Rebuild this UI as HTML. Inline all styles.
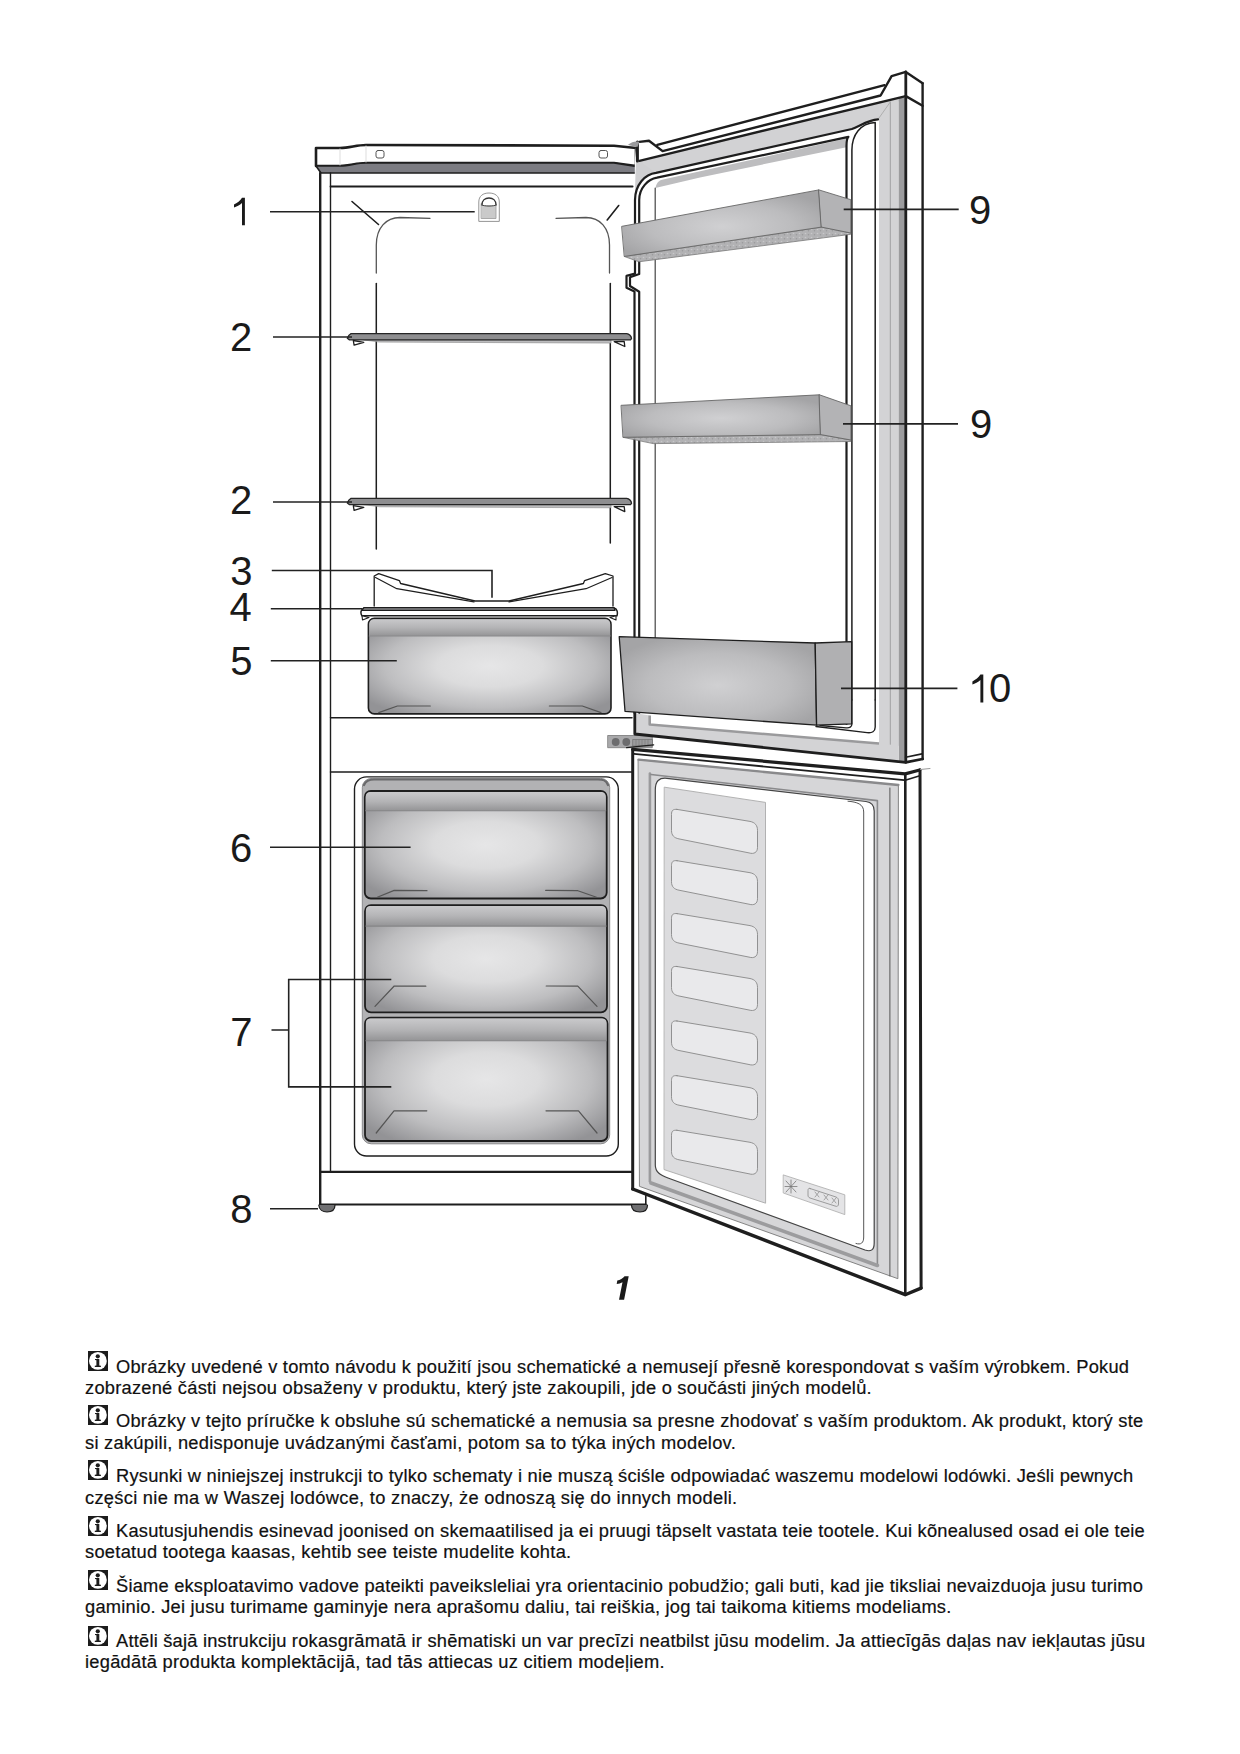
<!DOCTYPE html>
<html><head><meta charset="utf-8">
<style>
html,body{margin:0;padding:0;background:#fff;}
body{width:1240px;height:1754px;position:relative;overflow:hidden;font-family:"Liberation Sans",sans-serif;color:#111;}
svg{position:absolute;left:0;top:0;}
.ln{position:absolute;left:0;white-space:pre;font-size:18.3px;letter-spacing:0.2px;line-height:22px;-webkit-text-stroke:0.2px #111;}
.ic{position:absolute;left:88px;width:20px;height:20px;background:#1c1c1c;}
.lab{font-family:"Liberation Sans",sans-serif;font-size:39px;fill:#1a1a1a;}
</style></head><body>
<svg width="1240" height="1754" viewBox="0 0 1240 1754">
<defs>
<radialGradient id="gDr" cx="0.5" cy="0.5" r="0.62" fx="0.5" fy="0.5">
<stop offset="0" stop-color="#e6e6e7"/><stop offset="0.35" stop-color="#dcdcdd"/><stop offset="0.7" stop-color="#bdbdbf"/><stop offset="1" stop-color="#939396"/>
</radialGradient>
<linearGradient id="gHd" x1="0" y1="0" x2="0" y2="1">
<stop offset="0" stop-color="#c9c9cb"/><stop offset="0.5" stop-color="#b4b4b6"/><stop offset="1" stop-color="#949496"/>
</linearGradient>
<radialGradient id="gBin" cx="0.5" cy="0.55" r="0.6">
<stop offset="0" stop-color="#d0d0d2"/><stop offset="0.6" stop-color="#bcbcbe"/><stop offset="1" stop-color="#a4a4a6"/>
</radialGradient>
<pattern id="pTex" width="6" height="4" patternUnits="userSpaceOnUse">
<rect width="6" height="4" fill="#b2b2b4"/><circle cx="1.5" cy="1.5" r="0.8" fill="#c8c8ca"/><circle cx="4.5" cy="2.8" r="0.8" fill="#9a9a9c"/>
</pattern>
</defs>
<g id="drawing" fill="none" stroke="#1e1e1e" stroke-linejoin="round" stroke-linecap="round">
<!-- CABINET -->
<!-- top cover -->
<path d="M316,148 L340,148 C350,148 356,145 366,145 L614,145.7 L636,148 L636,166 L614,163 L366,163 C356,163 350,166 340,166 L316,166 Z" fill="#fff" stroke-width="2.6"/>
<path d="M316,166 L340,166 C350,166 356,163 366,163 L614,163 L636,166.5 L636,173 L321,173 Z" fill="#7c7c82" stroke-width="1.6"/>
<rect x="376" y="150.5" width="8" height="7.5" rx="2" stroke="#555" stroke-width="1"/>
<rect x="599" y="150.5" width="8.5" height="7.5" rx="2" stroke="#555" stroke-width="1"/>
<line x1="340" y1="149" x2="340" y2="165" stroke="#ddd" stroke-width="1"/>
<line x1="366" y1="146" x2="366" y2="162" stroke="#ddd" stroke-width="1"/>
<!-- cabinet walls -->
<line x1="320.2" y1="173" x2="320.2" y2="1205" stroke-width="2.4"/>
<line x1="330.5" y1="173" x2="330.5" y2="1171.5" stroke-width="1.4"/>
<line x1="330.5" y1="186.5" x2="632.6" y2="186.5" stroke-width="1.8"/>

<!-- FRIDGE INTERIOR -->
<!-- liner -->
<path d="M376.3,273 L376.3,245 C376.3,228 386,217.5 400,217.5 L430,218.3" stroke="#555" stroke-width="1.3"/>
<path d="M556,218.3 L586,217.5 C600,217.5 609.5,228 609.5,245 L609.5,273" stroke="#555" stroke-width="1.3"/>
<line x1="376.3" y1="283.5" x2="376.3" y2="549" stroke-width="1.5"/>
<line x1="610.3" y1="283.5" x2="610.3" y2="543" stroke-width="1.5"/>
<line x1="352" y1="201.5" x2="378.5" y2="224.5" stroke-width="1.6"/>
<line x1="607.2" y1="220" x2="618.7" y2="205.5" stroke-width="1.6"/>
<!-- light -->
<path d="M478.8,221 L478.8,202 C478.8,196 483,193 489,193 C495,193 499.3,196 499.3,202 L499.3,221 Z" fill="#fff" stroke="#888" stroke-width="0.9"/>
<rect x="481.5" y="203.5" width="14.5" height="15" fill="#cacaca" stroke="#999" stroke-width="0.8"/>
<path d="M482,205 C482,200.5 485,198 489,198 C493,198 496,200.5 496,205" fill="#fff" stroke="#333" stroke-width="1.3"/>
<path d="M482,205 C484,206.5 494,206.5 496,205" stroke="#444" stroke-width="1"/>
<!-- shelf upper -->
<path d="M364,339.9 L611,339.9 L611,343.1 L380,342.1 Z" fill="#bcbcbe" stroke="#888" stroke-width="0.6"/>
<path d="M351,333.6 L626.7,333.6 C629,333.8 631.5,336.3 631.5,338.6 L630.5,339.9 L349.5,339.9 L347.3,338.3 C348,336.3 349.5,334.3 351,333.6 Z" fill="#8e8e90" stroke="#262626" stroke-width="1.3"/>
<path d="M353.3,340.5 L354.1,345.2 L363.8,342.3 Z" fill="#fff" stroke-width="1.3"/>
<path d="M614.2,341.6 L624.8,346.5 L624.2,341.5 Z" fill="#fff" stroke-width="1.3"/>
<!-- shelf lower -->
<path d="M364,504.6 L611,504.6 L611,507.8 L380,506.8 Z" fill="#bcbcbe" stroke="#888" stroke-width="0.6"/>
<path d="M351,498.3 L626.7,498.3 C629,498.5 631.5,501.0 631.5,503.3 L630.5,504.6 L349.5,504.6 L347.3,503.0 C348,501.0 349.5,499.0 351,498.3 Z" fill="#8e8e90" stroke="#262626" stroke-width="1.3"/>
<path d="M353.3,505.6 L354.1,510.4 L363.8,507.4 Z" fill="#fff" stroke-width="1.3"/>
<path d="M614.2,506.7 L624.8,511.6 L624.2,506.6 Z" fill="#fff" stroke-width="1.3"/>
<!-- bottle rack (3) -->
<path d="M374.2,606 L374.2,576 L378.7,573.6 L399.4,580.6 L400.6,583.5 L475,601 L509,601 L583.4,583.5 L584.6,580.6 L605.3,573.6 L613,576 L613,606" fill="#fff" stroke-width="1.3"/>
<path d="M375.5,577.5 L396.8,588.7 L474,601.8 M509,601.8 L586,588.7 L612,577.5" stroke-width="1.2"/>
<!-- glass shelf (4) -->
<path d="M364,608 L614,608 C617,608.5 618,612 617,615.8 L362,615.8 C360,613 361,609 364,608 Z" fill="#fff" stroke-width="1.5"/>
<path d="M364,607.5 L614,607.5 L615,610.5 L362,610.5 Z" fill="#6e6e70" stroke-width="1.2"/>
<path d="M362,615.8 L362.5,620 L369,617.5 Z" fill="#fff" stroke-width="1.1"/>
<path d="M616,615.8 L616,620 L610,617.5 Z" fill="#fff" stroke-width="1.1"/>
<!-- crisper (5) -->
<rect x="368.4" y="618.4" width="242.6" height="95.5" rx="6" fill="url(#gDr)" stroke-width="1.6"/>
<path d="M369.2,636 L369.2,624.5 C369.2,620.5 371.5,619.2 374.5,619.2 L605,619.2 C608,619.2 610.2,620.5 610.2,624.5 L610.2,636 Z" fill="url(#gHd)" stroke="none"/>
<line x1="369.2" y1="636" x2="610.2" y2="636" stroke="#8a8a8c" stroke-width="1"/>
<path d="M378.7,712.6 L397.4,706 L430.3,706" stroke="#555" stroke-width="1.2"/>
<path d="M601,712.6 L582.3,706 L549.4,706" stroke="#555" stroke-width="1.2"/>
<!-- compartment separators -->
<line x1="330.5" y1="717.7" x2="632" y2="717.7" stroke-width="1.5"/>
<line x1="330.5" y1="771.9" x2="632" y2="771.9" stroke-width="1.5"/>

<!-- FREEZER -->
<rect x="354.5" y="776.9" width="263.8" height="379.1" rx="12" fill="#fff" stroke-width="1.4"/>
<rect x="362.3" y="778.4" width="247.4" height="365.4" rx="9" fill="#b2b2b4" stroke="#8a8a8c" stroke-width="1"/>
<path d="M364,785 C366,780 370,779.5 374,779.5 L598,779.5 C603,779.5 606,780 608,785" stroke="#6a6a6c" stroke-width="2.2"/>
<!-- drawer 1 -->
<rect x="364.8" y="791" width="241.9" height="107.5" rx="6" fill="url(#gDr)" stroke-width="1.8"/>
<path d="M365.7,810.8 L365.7,797 C365.7,793 368,791.9 371,791.9 L600.5,791.9 C603.5,791.9 605.8,793 605.8,797 L605.8,810.8 Z" fill="url(#gHd)" stroke="none"/>
<line x1="365.7" y1="810.8" x2="605.8" y2="810.8" stroke="#858587" stroke-width="1.1"/>
<path d="M377.3,897.2 L394.2,890.4 L427,890.7" stroke="#555" stroke-width="1.2"/>
<path d="M596.5,897.2 L577.9,890.7 L545.7,890.4" stroke="#555" stroke-width="1.2"/>
<!-- drawer 2 -->
<rect x="365" y="905.2" width="242" height="107.1" rx="6" fill="url(#gDr)" stroke-width="1.8"/>
<path d="M365.9,926.1 L365.9,911 C365.9,907 368,906.1 371,906.1 L600.8,906.1 C603.8,906.1 606.1,907 606.1,911 L606.1,926.1 Z" fill="url(#gHd)" stroke="none"/>
<line x1="365.9" y1="926.1" x2="606.1" y2="926.1" stroke="#858587" stroke-width="1.1"/>
<path d="M375,1006.3 L394.2,986 L425.8,986.2" stroke="#555" stroke-width="1.2"/>
<path d="M597,1006.3 L577.8,986.2 L546.2,986" stroke="#555" stroke-width="1.2"/>
<!-- drawer 3 -->
<rect x="365" y="1017.7" width="242.5" height="123.3" rx="6" fill="url(#gDr)" stroke-width="1.8"/>
<path d="M365.9,1040.7 L365.9,1023.5 C365.9,1019.5 368,1018.6 371,1018.6 L601.3,1018.6 C604.3,1018.6 606.6,1019.5 606.6,1023.5 L606.6,1040.7 Z" fill="url(#gHd)" stroke="none"/>
<line x1="365.9" y1="1040.7" x2="606.6" y2="1040.7" stroke="#858587" stroke-width="1.1"/>
<path d="M376.2,1133 L394,1110.8 L426.8,1110.8" stroke="#555" stroke-width="1.2"/>
<path d="M597,1133 L578.5,1110.8 L546,1110.8" stroke="#555" stroke-width="1.2"/>
<!-- base -->
<line x1="320.2" y1="1171.8" x2="632.7" y2="1171.8" stroke-width="2.2"/>
<line x1="320.2" y1="1204.6" x2="645.8" y2="1204.6" stroke-width="2"/>
<line x1="645.8" y1="1195.5" x2="645.8" y2="1204.6" stroke-width="1.6"/>
<path d="M318.8,1205 C319,1210 323,1212 327,1212 C332,1212 335,1209.5 335,1205" fill="#707072" stroke-width="1.2"/>
<path d="M631.5,1205 C631.5,1210 635,1212 640,1212 C645,1212 647.5,1209.5 647.5,1205" fill="#707072" stroke-width="1.2"/>
<!-- hinge -->
<rect x="608" y="735.5" width="44.3" height="12.2" fill="#a9a9ab" stroke="#777" stroke-width="0.8"/>
<circle cx="615.7" cy="742" r="3.9" fill="#6c6c6e" stroke="none"/>
<circle cx="626.3" cy="742" r="3.9" fill="#6c6c6e" stroke="none"/>
<rect x="633" y="739.5" width="19.5" height="6.5" fill="#9a9a9c" stroke="#666" stroke-width="0.6"/>
<path d="M636,740 L636,746 M639,740 L639,746 M642,740 L642,746 M645,740 L645,746 M648,740 L648,746" stroke="#777" stroke-width="0.6"/>
<path d="M626.6,747.6 L653.7,744.8" stroke-width="1.2"/>

<!-- UPPER DOOR -->
<path d="M636,147 L649,140.8 L884.5,85.2 L891.6,76.1 L905.8,71.9 L922.6,83.2 L922.6,759 L905.6,762.3 L634.8,734 L634.8,160 Z" fill="#fff" stroke="none"/>
<!-- top grey gasket band -->
<path d="M639.4,160.8 L905.8,96.1 L905.8,101 L890.3,102 L878,119.4 L851.9,129 L656,172.9 C645,174 635,185 635,200 L636,162 Z" fill="#d2d2d4" stroke="none"/>
<!-- grey shadow under top inner -->
<path d="M655.3,192 C655.3,185 657.5,181 662,179.8 L846.5,138.5 L846.5,147.2 L700,177.4 L655.3,188 Z" fill="#bdbdbf" stroke="none"/>
<!-- right gasket vertical -->
<rect x="879" y="101" width="19.7" height="645" fill="#d3d3d5" stroke="none"/>
<rect x="898.7" y="98" width="7.2" height="664" fill="#9c9c9e" stroke="none"/>
<line x1="890.3" y1="102" x2="890.3" y2="746" stroke="#9a9a9c" stroke-width="0.9"/>
<path d="M878,119.4 L890.3,102" stroke="#aaa" stroke-width="0.9"/>
<!-- left gasket light face top-left -->
<path d="M636,162 L639.4,160.8 L656,172.9 C645,174 636,185 635,200 Z" fill="#cfcfd1" stroke="none"/>
<!-- rails -->
<path d="M657.3,144.8 L884.5,85.2" stroke-width="2.4"/>
<path d="M639.4,141.9 L649,140.8 L662.6,151.1 L880.6,95.5 L891.6,76.1 L905.8,71.9" stroke-width="2.4"/>
<path d="M639.4,160.8 L905.8,96.1" stroke-width="2.4"/>
<path d="M637.4,142 L637.4,161" stroke-width="3"/>
<path d="M627.7,145 C632,141.5 636,141 639.4,141.9 L637.4,147 Z" fill="#9a9a9c" stroke="none"/>
<path d="M905.8,71.9 L922.6,83.2 M905.8,96.1 L922.6,105.8" stroke-width="2.4"/>
<line x1="905.8" y1="71.9" x2="905.8" y2="762.3" stroke-width="2.8"/>
<line x1="922.6" y1="83.2" x2="922.6" y2="759" stroke-width="2.4"/>
<!-- gasket lines -->
<path d="M634.5,713 L634.5,291.4 L626.5,287.7 L626.5,275.9 L635,273.6 L635,200 C635,185 645,174 656,172.9 L851.9,129 C860,126 868,120 878,119.4" stroke-width="2.2"/>
<path d="M639.2,713 L639.2,291.8 L630,286 L630,277.2 L639.2,274 L639.2,200 C639.2,188 648,179 657,177.7 L848.4,136.8 C847,138 846.5,140 846.5,146 L846.5,724" stroke-width="2.2"/>
<path d="M851.9,700 L851.9,150 C852,135 860,123.5 875.2,122.6 L875.2,700" stroke-width="1.5"/>
<line x1="655.2" y1="188" x2="655.2" y2="640" stroke="#444" stroke-width="1.2"/>
<!-- bottom gasket -->
<path d="M634.8,713 L649.7,715.5 L649.7,724.5 L879,743.5 L898.7,745.5 L898.7,761.5 L634.8,734 Z" fill="#d3d3d5" stroke="none"/>
<path d="M649.7,715.5 L649.7,724.5 L879,743.5" stroke="#9a9a9c" stroke-width="2.6" stroke-linecap="butt"/>
<path d="M634.8,713 L634.8,734 L905.6,762.3 L922.6,759" stroke-width="2.8"/>
<path d="M905.6,757.3 L922,753.9" stroke-width="1.6"/>
<path d="M875.2,700 L875.2,727 C875.2,731.5 872,733.3 867,732.6 L816,726.5" stroke-width="1.4"/>
<path d="M851.9,700 L851.9,724 C851.9,727 849.5,728.2 846,727.8 L820,725.5" stroke-width="1.3"/>
<!-- bin 9 upper -->
<path d="M624.6,256.4 L821.5,227.1 L850.8,233 L850.8,234.3 L639.3,261.7 Z" fill="url(#pTex)" stroke="#777" stroke-width="0.8"/>
<path d="M622,226.3 L818.9,189.9 L821.5,227.1 L624.6,256.4 Z" fill="url(#gBin)" stroke="#666" stroke-width="0.9"/>
<path d="M818.9,189.9 L850.8,199.7 L850.8,233 L821.5,227.1 Z" fill="#b3b3b5" stroke="#666" stroke-width="0.9"/>
<!-- bin 9 lower -->
<path d="M623.3,437.3 L820.7,434.6 L850.9,440 L850.9,441.5 L653.5,443.6 Z" fill="url(#pTex)" stroke="#777" stroke-width="0.8"/>
<path d="M621.4,405.3 L819.4,394.8 L820.7,434.6 L623.3,437.3 Z" fill="url(#gBin)" stroke="#666" stroke-width="0.9"/>
<path d="M819.4,394.8 L850.9,405.8 L850.9,440 L820.7,434.6 Z" fill="#b3b3b5" stroke="#666" stroke-width="0.9"/>
<!-- bin 10 -->
<path d="M619.2,636.7 L815.2,643 L816.6,725.2 L625,711.3 Z" fill="url(#gBin)" stroke-width="1.3"/>
<path d="M815.2,643 L851.7,641.6 L851.7,723.9 L816.6,725.2 Z" fill="#b0b0b2" stroke-width="1.3"/>

<!-- LOWER DOOR -->
<path d="M632.7,749.4 L905.2,773.9 L919.7,770 L921.1,1288.1 L905.2,1294.7 L632.7,1189 Z" fill="#fff" stroke="none"/>
<!-- gasket light band -->
<path d="M638.5,759.6 L898.4,785 L897.9,1278.7 L639.8,1186.5 Z" fill="#d6d6d8" stroke="#777" stroke-width="0.9"/>
<path d="M638.5,759.6 L898.4,785" stroke="#8a8a8c" stroke-width="2.4"/>
<line x1="649.9" y1="773.5" x2="649.9" y2="1181.5" stroke="#9a9a9c" stroke-width="2.6"/>
<path d="M651,774.5 L877.4,800.6 L877.4,1264.2" stroke="#8a8a8c" stroke-width="1.6"/>
<path d="M651,1183 L877.4,1265.5" stroke="#9c9c9e" stroke-width="3.6"/>
<line x1="889.9" y1="788" x2="889.9" y2="1276" stroke="#555" stroke-width="1"/>
<!-- white inner panel -->
<path d="M655.3,790 C655.3,781 659,777.5 667,778.3 L866,801.5 C871.5,802.2 874.2,805 874.2,811 L874.2,1243 C874.2,1250 871,1252 865,1250 L668,1178 C660,1175 655.3,1172 655.3,1165 Z" fill="#fff" stroke="#444" stroke-width="1.2"/>
<path d="M848,801.2 C857,802 863.7,804 863.7,812 L863.7,1237 C863.7,1243 861,1245 856,1243.5" stroke="#555" stroke-width="1"/>
<!-- vent panel -->
<path d="M664.6,787.2 L765.5,802.4 L765.6,1203.2 L664.4,1169.7 Z" fill="#dcdcde" stroke="#aaa" stroke-width="0.9"/>
<path d="M677,809.4 L750,821.4 C755,822.4 757.5,825.4 757.5,830.4 L757.5,847.4 C757.5,852.4 754,854.4 749,852.9 L679,838.9 C674,837.9 671.5,835.4 671.5,830.4 L671.5,814.4 C671.5,810.4 673,808.9 677,809.4 Z" fill="#e9e9eb" stroke="#888" stroke-width="0.9"/>
<path d="M677,860.7 L750,872.7 C755,873.7 757.5,876.7 757.5,881.7 L757.5,898.7 C757.5,903.7 754,905.7 749,904.2 L679,890.2 C674,889.2 671.5,886.7 671.5,881.7 L671.5,865.7 C671.5,861.7 673,860.2 677,860.7 Z" fill="#e9e9eb" stroke="#888" stroke-width="0.9"/>
<path d="M677,913.6 L750,925.6 C755,926.6 757.5,929.6 757.5,934.6 L757.5,951.6 C757.5,956.6 754,958.6 749,957.1 L679,943.1 C674,942.1 671.5,939.6 671.5,934.6 L671.5,918.6 C671.5,914.6 673,913.1 677,913.6 Z" fill="#e9e9eb" stroke="#888" stroke-width="0.9"/>
<path d="M677,966.5 L750,978.5 C755,979.5 757.5,982.5 757.5,987.5 L757.5,1004.5 C757.5,1009.5 754,1011.5 749,1010.0 L679,996.0 C674,995.0 671.5,992.5 671.5,987.5 L671.5,971.5 C671.5,967.5 673,966.0 677,966.5 Z" fill="#e9e9eb" stroke="#888" stroke-width="0.9"/>
<path d="M677,1021.0 L750,1033.0 C755,1034.0 757.5,1037.0 757.5,1042.0 L757.5,1059.0 C757.5,1064.0 754,1066.0 749,1064.5 L679,1050.5 C674,1049.5 671.5,1047.0 671.5,1042.0 L671.5,1026.0 C671.5,1022.0 673,1020.5 677,1021.0 Z" fill="#e9e9eb" stroke="#888" stroke-width="0.9"/>
<path d="M677,1075.7 L750,1087.7 C755,1088.7 757.5,1091.7 757.5,1096.7 L757.5,1113.7 C757.5,1118.7 754,1120.7 749,1119.2 L679,1105.2 C674,1104.2 671.5,1101.7 671.5,1096.7 L671.5,1080.7 C671.5,1076.7 673,1075.2 677,1075.7 Z" fill="#e9e9eb" stroke="#888" stroke-width="0.9"/>
<path d="M677,1130.3 L750,1142.3 C755,1143.3 757.5,1146.3 757.5,1151.3 L757.5,1168.3 C757.5,1173.3 754,1175.3 749,1173.8 L679,1159.8 C674,1158.8 671.5,1156.3 671.5,1151.3 L671.5,1135.3 C671.5,1131.3 673,1129.8 677,1130.3 Z" fill="#e9e9eb" stroke="#888" stroke-width="0.9"/>

<!-- control label -->
<path d="M783.6,1175 L844.8,1194.8 L844.8,1214.6 L783.6,1193.1 Z" fill="#e4e4e6" stroke="#aaa" stroke-width="0.8"/>
<path d="M786,1181 L796,1192 M796,1181 L786,1192 M791,1180 L791,1193 M785,1186.5 L797,1186.5" stroke="#777" stroke-width="0.8"/>
<path d="M815,1192 L819,1197 M819,1192 L815,1197 M824,1195 L828,1200 M828,1195 L824,1200 M832,1198 L836,1203 M836,1198 L832,1203" stroke="#888" stroke-width="0.7"/>
<path d="M810,1188.5 L836,1197 C838,1198 838.5,1199 838.5,1201 L838.5,1204 C838.5,1206 837,1207 835,1206 L810,1198 C808.5,1197.5 808,1196.5 808,1195 L808,1190.5 C808,1188.5 809,1188 810,1188.5 Z" fill="none" stroke="#888" stroke-width="0.8"/>
<!-- outer door lines -->
<path d="M632.7,749.4 L905.2,773.9 L919.7,770" stroke-width="3.2"/>
<path d="M634,753.8 L904.2,780.2" stroke-width="1.8"/>
<path d="M906,780 L919,776" stroke-width="1.5"/>
<line x1="632.7" y1="749.4" x2="632.7" y2="1189" stroke-width="3"/>
<path d="M632.7,1189 L905.2,1294.7 L921.1,1288.1" stroke-width="3.4"/>
<line x1="905.3" y1="774" x2="905.3" y2="1294.7" stroke-width="2.6"/>
<line x1="920" y1="770" x2="921.1" y2="1288.1" stroke-width="3"/>
<path d="M920.5,769.5 L930,768.5" stroke-width="1" stroke="#999"/>
</g>

<!-- LEADERS -->
<g stroke="#222" stroke-width="1.6" fill="none">
<line x1="270" y1="211.8" x2="474.7" y2="211.8"/>
<line x1="273" y1="337" x2="352" y2="337"/>
<line x1="273" y1="502" x2="352" y2="502"/>
<path d="M271.8,570.5 L492,570.5 L492,597.7"/>
<line x1="270.8" y1="608.7" x2="362" y2="608.7"/>
<line x1="270.8" y1="660.8" x2="396.8" y2="660.8"/>
<line x1="270" y1="847.2" x2="410.6" y2="847.2"/>
<path d="M391.3,979.5 L288.7,979.5 L288.7,1086.9 L391.3,1086.9 M271.5,1030 L288.7,1030"/>
<line x1="270" y1="1208.8" x2="318" y2="1208.8"/>
<line x1="843.7" y1="209.4" x2="958.7" y2="209.4"/>
<line x1="843" y1="423.9" x2="958" y2="423.9"/>
<line x1="841" y1="688.4" x2="957.4" y2="688.4"/>
</g>
<g stroke="none" fill="#1a1a1a" font-family="Liberation Sans" font-size="40">
<path d="M242.0,197.7 L244.9,197.7 L244.9,225.2 L242.0,225.2 L242.0,203.0 C240.0,205.0 236.3,206.8 234.0,207.6 L234.0,204.5 C236.8,203.0 240.6,200.5 242.0,197.7 Z"/>
<text x="230" y="351">2</text>
<text x="230" y="513.6">2</text>
<text x="230.3" y="584.6">3</text>
<text x="229.5" y="621.4">4</text>
<text x="230.3" y="675">5</text>
<text x="230" y="861.8">6</text>
<text x="230.3" y="1045.6">7</text>
<text x="230.3" y="1222.6">8</text>
<text x="969" y="224.2">9</text>
<text x="970" y="438.4">9</text>
<path d="M980.4,674.6 L983.3,674.6 L983.3,702.4 L980.4,702.4 L980.4,679.9 C978.4,681.9 974.7,683.7 972.4,684.5 L972.4,681.4 C975.2,679.9 979.0,677.4 980.4,674.6 Z"/>
<text x="989" y="702.4">0</text>
<path d="M624.6,1276.2 L628.7,1276.2 L624.1,1299.8 L619,1299.8 L622.5,1282.2 C620.8,1283.2 618.8,1283.8 616.7,1284 L617.3,1280.5 C620.2,1279.8 622.7,1278.3 624.6,1276.2 Z"/>
</g>
</svg>
<svg class="ic" style="top:1351.2px" width="20" height="20" viewBox="0 0 20 20"><rect width="20" height="20" fill="#1c1c1c"/><circle cx="9.9" cy="9.9" r="8.9" fill="#fff"/><circle cx="9.8" cy="5.3" r="2.1" fill="#1c1c1c"/><path d="M7,8 L11.3,8 L11.3,14.4 L12.9,14.8 L12.9,16 L6.8,16 L6.8,14.8 L8.4,14.4 L8.4,9.3 L7,9.1 Z" fill="#1c1c1c"/></svg>
<div class="ln" style="left:116px;top:1355.5px;letter-spacing:0.235px">Obrázky uvedené v tomto návodu k použití jsou schematické a nemusejí přesně korespondovat s vaším výrobkem. Pokud</div>
<div class="ln" style="left:85px;top:1376.8px;letter-spacing:0.239px">zobrazené části nejsou obsaženy v produktu, který jste zakoupili, jde o součásti jiných modelů.</div>
<svg class="ic" style="top:1405.3px" width="20" height="20" viewBox="0 0 20 20"><rect width="20" height="20" fill="#1c1c1c"/><circle cx="9.9" cy="9.9" r="8.9" fill="#fff"/><circle cx="9.8" cy="5.3" r="2.1" fill="#1c1c1c"/><path d="M7,8 L11.3,8 L11.3,14.4 L12.9,14.8 L12.9,16 L6.8,16 L6.8,14.8 L8.4,14.4 L8.4,9.3 L7,9.1 Z" fill="#1c1c1c"/></svg>
<div class="ln" style="left:116px;top:1409.6px;letter-spacing:0.242px">Obrázky v tejto príručke k obsluhe sú schematické a nemusia sa presne zhodovať s vaším produktom. Ak produkt, ktorý ste</div>
<div class="ln" style="left:85px;top:1431.9px;letter-spacing:0.271px">si zakúpili, nedisponuje uvádzanými časťami, potom sa to týka iných modelov.</div>
<svg class="ic" style="top:1460.3px" width="20" height="20" viewBox="0 0 20 20"><rect width="20" height="20" fill="#1c1c1c"/><circle cx="9.9" cy="9.9" r="8.9" fill="#fff"/><circle cx="9.8" cy="5.3" r="2.1" fill="#1c1c1c"/><path d="M7,8 L11.3,8 L11.3,14.4 L12.9,14.8 L12.9,16 L6.8,16 L6.8,14.8 L8.4,14.4 L8.4,9.3 L7,9.1 Z" fill="#1c1c1c"/></svg>
<div class="ln" style="left:116px;top:1464.6px;letter-spacing:0.216px">Rysunki w niniejszej instrukcji to tylko schematy i nie muszą ściśle odpowiadać waszemu modelowi lodówki. Jeśli pewnych</div>
<div class="ln" style="left:85px;top:1486.6px;letter-spacing:0.286px">części nie ma w Waszej lodówce, to znaczy, że odnoszą się do innych modeli.</div>
<svg class="ic" style="top:1515.5px" width="20" height="20" viewBox="0 0 20 20"><rect width="20" height="20" fill="#1c1c1c"/><circle cx="9.9" cy="9.9" r="8.9" fill="#fff"/><circle cx="9.8" cy="5.3" r="2.1" fill="#1c1c1c"/><path d="M7,8 L11.3,8 L11.3,14.4 L12.9,14.8 L12.9,16 L6.8,16 L6.8,14.8 L8.4,14.4 L8.4,9.3 L7,9.1 Z" fill="#1c1c1c"/></svg>
<div class="ln" style="left:116px;top:1519.8px;letter-spacing:0.215px">Kasutusjuhendis esinevad joonised on skemaatilised ja ei pruugi täpselt vastata teie tootele. Kui kõnealused osad ei ole teie</div>
<div class="ln" style="left:85px;top:1541.1px;letter-spacing:0.274px">soetatud tootega kaasas, kehtib see teiste mudelite kohta.</div>
<svg class="ic" style="top:1570.4px" width="20" height="20" viewBox="0 0 20 20"><rect width="20" height="20" fill="#1c1c1c"/><circle cx="9.9" cy="9.9" r="8.9" fill="#fff"/><circle cx="9.8" cy="5.3" r="2.1" fill="#1c1c1c"/><path d="M7,8 L11.3,8 L11.3,14.4 L12.9,14.8 L12.9,16 L6.8,16 L6.8,14.8 L8.4,14.4 L8.4,9.3 L7,9.1 Z" fill="#1c1c1c"/></svg>
<div class="ln" style="left:116px;top:1574.7px;letter-spacing:0.205px">Šiame eksploatavimo vadove pateikti paveiksleliai yra orientacinio pobudžio; gali buti, kad jie tiksliai nevaizduoja jusu turimo</div>
<div class="ln" style="left:85px;top:1596.0px;letter-spacing:0.223px">gaminio. Jei jusu turimame gaminyje nera aprašomu daliu, tai reiškia, jog tai taikoma kitiems modeliams.</div>
<svg class="ic" style="top:1625.5px" width="20" height="20" viewBox="0 0 20 20"><rect width="20" height="20" fill="#1c1c1c"/><circle cx="9.9" cy="9.9" r="8.9" fill="#fff"/><circle cx="9.8" cy="5.3" r="2.1" fill="#1c1c1c"/><path d="M7,8 L11.3,8 L11.3,14.4 L12.9,14.8 L12.9,16 L6.8,16 L6.8,14.8 L8.4,14.4 L8.4,9.3 L7,9.1 Z" fill="#1c1c1c"/></svg>
<div class="ln" style="left:116px;top:1629.8px;letter-spacing:0.216px">Attēli šajā instrukciju rokasgrāmatā ir shēmatiski un var precīzi neatbilst jūsu modelim. Ja attiecīgās daļas nav iekļautas jūsu</div>
<div class="ln" style="left:85px;top:1651.4px;letter-spacing:0.259px">iegādātā produkta komplektācijā, tad tās attiecas uz citiem modeļiem.</div>
</body></html>
